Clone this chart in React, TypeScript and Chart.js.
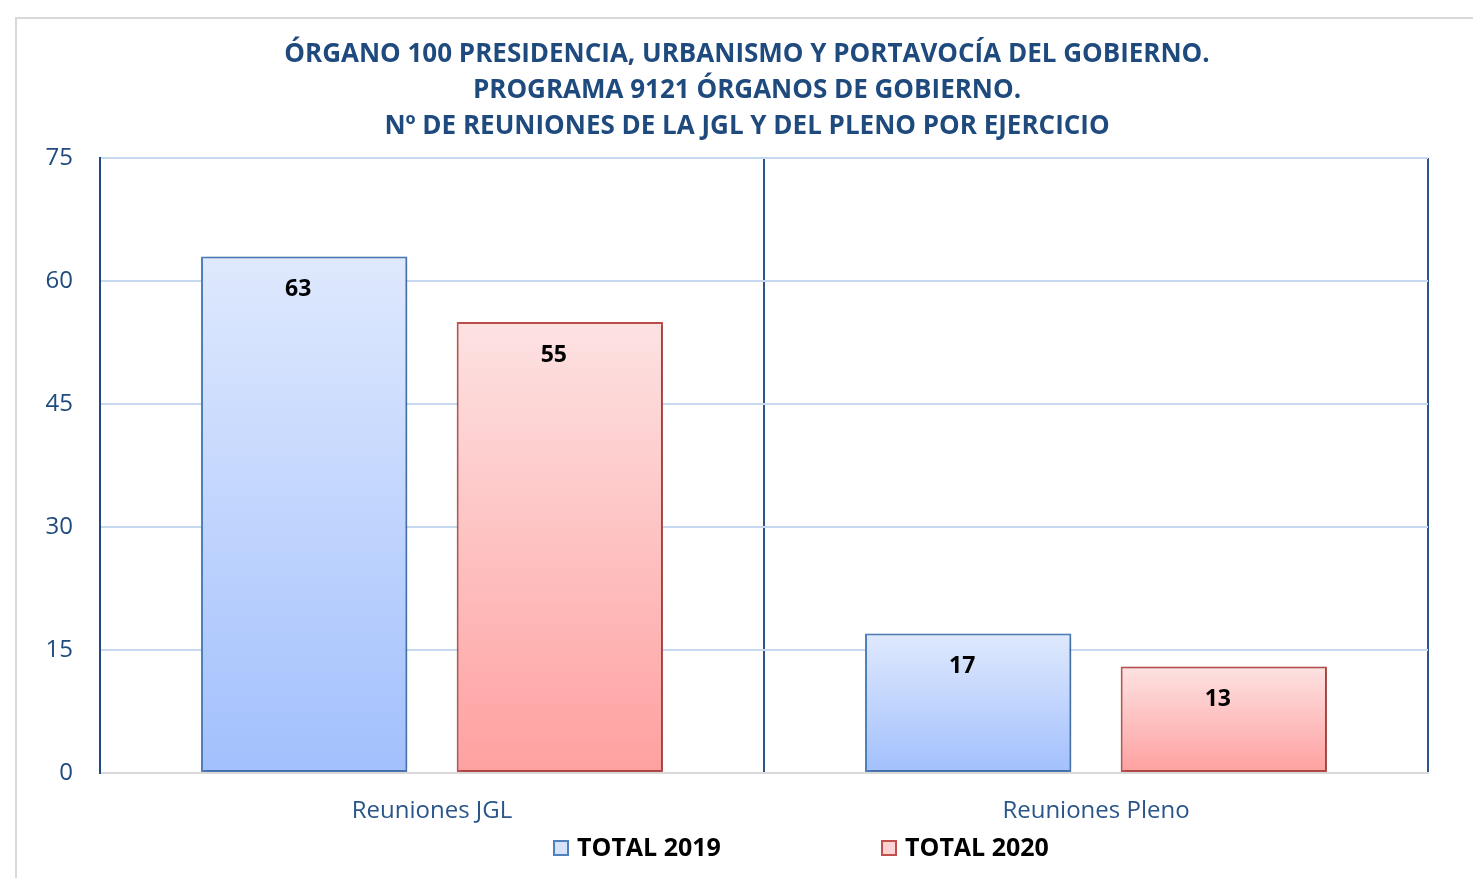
import React, { useEffect, useRef } from "react";
import { Chart, registerables } from "chart.js";

Chart.register(...registerables);

const categories = ["Reuniones JGL", "Reuniones Pleno"];
const seriesNames = ["TOTAL 2019", "TOTAL 2020"];
const values2019 = [63, 17];
const values2020 = [55, 13];
const yTicks = [0, 15, 30, 45, 60, 75];
const titleLines = [
  "ÓRGANO 100 PRESIDENCIA, URBANISMO Y PORTAVOCÍA DEL GOBIERNO.",
  "PROGRAMA 9121 ÓRGANOS DE GOBIERNO.",
  "Nº DE REUNIONES DE LA JGL Y DEL PLENO POR EJERCICIO",
];

const FONT = "'Open Sans', 'DejaVu Sans', sans-serif";

function barGradient(top: string, bottom: string) {
  return (ctx: any) => {
    const chart = ctx.chart;
    const area = chart.chartArea;
    const y = chart.scales && chart.scales.y;
    if (!area || !y || ctx.raw == null) return bottom;
    const yTop = y.getPixelForValue(ctx.raw);
    const yBot = y.getPixelForValue(0);
    if (!isFinite(yTop) || !isFinite(yBot) || yTop === yBot) return bottom;
    const g = chart.ctx.createLinearGradient(0, yTop, 0, yBot);
    g.addColorStop(0, top);
    g.addColorStop(1, bottom);
    return g;
  };
}

const decorPlugin = {
  id: "decor",
  beforeDatasetsDraw(chart: any) {
    const c = chart.ctx;
    c.save();
    c.shadowColor = "rgba(0,0,0,0.22)";
    c.shadowBlur = 4;
    c.shadowOffsetX = 2;
    c.shadowOffsetY = 1;
  },
  afterDatasetsDraw(chart: any) {
    const c = chart.ctx;
    c.restore();
    // data labels
    c.save();
    c.font = `bold 23px ${FONT}`;
    c.fillStyle = "#000000";
    c.textAlign = "center";
    c.textBaseline = "middle";
    chart.data.datasets.forEach((ds: any, di: number) => {
      const meta = chart.getDatasetMeta(di);
      meta.data.forEach((bar: any, i: number) => {
        c.fillText(String(ds.data[i]), bar.x - 6, bar.y + 33);
      });
    });
    c.restore();
  },
  afterDraw(chart: any) {
    const c = chart.ctx;
    c.save();
    // title
    c.font = `bold 26px ${FONT}`;
    c.fillStyle = "#1f4a7e";
    c.textAlign = "center";
    c.textBaseline = "middle";
    titleLines.forEach((t, i) => c.fillText(t, 747, 55 + i * 36));
    // legend
    const items = [
      { x: 553, fill: "#d6e3fb", stroke: "#4f81bd" },
      { x: 881, fill: "#fdd2d2", stroke: "#c0504d" },
    ];
    c.font = `bold 25px ${FONT}`;
    c.textAlign = "left";
    items.forEach((it, i) => {
      c.fillStyle = it.fill;
      c.fillRect(it.x, 840, 16, 16);
      c.strokeStyle = it.stroke;
      c.lineWidth = 2;
      c.strokeRect(it.x + 1, 841, 14, 14);
      c.fillStyle = "#000000";
      c.fillText(seriesNames[i], it.x + 24, 849);
    });
    c.restore();
  },
};

export default function App() {
  const ref = useRef<HTMLCanvasElement | null>(null);

  useEffect(() => {
    if (!ref.current) return;
    const chart = new Chart(ref.current, {
      type: "bar",
      data: {
        labels: categories,
        datasets: [
          {
            label: seriesNames[0],
            data: values2019,
            backgroundColor: barGradient("#dfe9fd", "#a2c0fd"),
            borderColor: "#4f81bd",
            borderWidth: 2,
            borderSkipped: false,
            categoryPercentage: 0.77,
            barPercentage: 0.807,
          },
          {
            label: seriesNames[1],
            data: values2020,
            backgroundColor: barGradient("#fde2e2", "#ffa0a0"),
            borderColor: "#c0504d",
            borderWidth: 2,
            borderSkipped: false,
            categoryPercentage: 0.77,
            barPercentage: 0.807,
          },
        ],
      },
      options: {
        animation: false,
        responsive: false,
        maintainAspectRatio: false,
        layout: { padding: { top: 158, right: 45, bottom: 0, left: 0 } },
        plugins: {
          legend: { display: false },
          title: { display: false },
          tooltip: { enabled: false },
        },
        scales: {
          x: {
            afterFit: (s: any) => {
              s.height = 105;
            },
            grid: {
              color: "#2f5488",
              lineWidth: 2,
              drawTicks: false,
              offset: true,
            },
            border: { color: "#d9d9d9", width: 2 },
            ticks: {
              color: "#2a5689",
              font: { family: FONT, size: 24 },
              padding: 24,
            },
          },
          y: {
            min: 0,
            max: 75,
            afterFit: (s: any) => {
              s.width = 100;
            },
            afterBuildTicks: (s: any) => {
              s.ticks = yTicks.map((v) => ({ value: v }));
            },
            grid: { color: "#c6d9f1", lineWidth: 2, drawTicks: false },
            border: { color: "#1f4a7e", width: 2 },
            ticks: {
              color: "#1f4a7e",
              font: { family: FONT, size: 24 },
              padding: 27,
            },
          },
        },
      },
      plugins: [decorPlugin],
    });
    return () => chart.destroy();
  }, []);

  return (
    <div
      style={{
        position: "fixed",
        left: 0,
        top: 0,
        width: 1473,
        height: 878,
        overflow: "hidden",
        background: "#ffffff",
      }}
    >
      <div
        style={{
          position: "absolute",
          left: 15,
          top: 17,
          width: 1520,
          height: 920,
          border: "2px solid #d9d9d9",
          boxSizing: "border-box",
        }}
      />
      <canvas
        ref={ref}
        width={1473}
        height={878}
        style={{ position: "absolute", left: 0, top: 0, width: 1473, height: 878 }}
      />
    </div>
  );
}
